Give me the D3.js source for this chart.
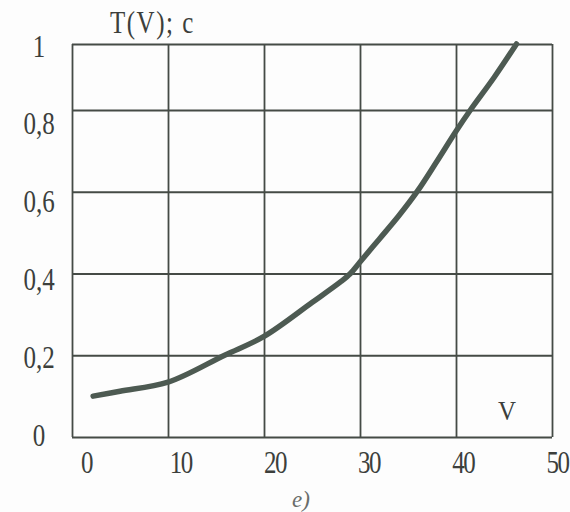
<!DOCTYPE html>
<html>
<head>
<meta charset="utf-8">
<script src="https://cdn.jsdelivr.net/npm/d3@7"></script>
<style>
  body { margin: 0; background: #fdfdfd; }
  text { font-family: "Liberation Serif", "DejaVu Serif", serif; fill: #3c3f3c; }
</style>
</head>
<body>
<div id="my_dataviz"></div>
<script>
// values
var vValues = [2.2, 5, 10, 15.9, 20, 25, 28, 29, 30, 32, 34, 36, 38, 40, 41.5, 44, 46.3];
var tValues = [0.10, 0.112, 0.134, 0.2, 0.246, 0.329, 0.38, 0.4, 0.428, 0.484, 0.54, 0.602, 0.674, 0.748, 0.8, 0.9, 1.0];

var vTicks = [0, 10, 20, 30, 40, 50];
var tTicks = [0, 0.2, 0.4, 0.6, 0.8, 1];
var vTickLabels = ["0", "10", "20", "30", "40", "50"];
var tTickLabels = ["0", "0,2", "0,4", "0,6", "0,8", "1"];

var width = 570, height = 512;

var svg = d3.select("#my_dataviz")
  .append("svg")
  .attr("width", width)
  .attr("height", height);

// the scanned grid is not quite even: top row is shorter
var x = d3.scaleLinear().domain([0, 50]).range([72, 552]);
var y = d3.scaleLinear().domain([0, 0.8, 1]).range([437, 110, 44]);

// tick labels in the scan drift a little from the grid lines
var xLab = d3.scaleLinear().domain([0, 50]).range([86, 557]);
var yLab = d3.scaleLinear().domain([0, 1]).range([445, 56]);

var gridColor = "#454b46";

// horizontal grid + T labels
var gy = svg.append("g")
  .attr("transform", "translate(" + x(0) + ",0)")
  .call(d3.axisLeft(y)
    .tickValues(tTicks)
    .tickSize(-(x(50) - x(0)))
    .tickFormat(function(d, i) { return tTickLabels[i]; }));

gy.select(".domain").remove();
gy.selectAll("line")
  .style("stroke", gridColor)
  .style("stroke-width", 1.8);
gy.selectAll("text")
  .attr("x", 0).attr("y", 0).attr("dy", null)
  .attr("text-anchor", "middle")
  .attr("transform", function(d) { return "translate(-33," + (yLab(d) - y(d)) + ") scale(1,1.3)"; })
  .style("font-size", "25px")
  .style("fill", "#3c3f3c");

// vertical grid + V labels
var gx = svg.append("g")
  .attr("transform", "translate(0," + y(0) + ")")
  .call(d3.axisBottom(x)
    .tickValues(vTicks)
    .tickSize(-(y(0) - y(1)))
    .tickFormat(function(d, i) { return vTickLabels[i]; }));

gx.select(".domain").remove();
gx.selectAll("line")
  .style("stroke", gridColor)
  .style("stroke-width", 1.8);
gx.selectAll("text")
  .attr("x", 0).attr("y", 0).attr("dy", null)
  .attr("text-anchor", "middle")
  .attr("transform", function(d) { return "translate(" + (xLab(d) - x(d)) + ",36) scale(1,1.3)"; })
  .style("font-size", "25px")
  .style("letter-spacing", "-1.5px")
  .style("fill", "#3c3f3c");

// curve
var pts = vValues.map(function(v, i) { return [v, tValues[i]]; });

var line = d3.line()
  .x(function(d) { return x(d[0]); })
  .y(function(d) { return y(d[1]); })
  .curve(d3.curveCatmullRom.alpha(0.5));

svg.append("path")
  .datum(pts)
  .attr("d", line)
  .style("fill", "none")
  .style("stroke", "#4d5a52")
  .style("stroke-width", 5.5)
  .style("stroke-linecap", "round");

// axis titles
svg.append("text")
  .attr("transform", "translate(110,33) scale(1,1.25)")
  .style("font-size", "25px")
  .style("letter-spacing", "1.5px")
  .text("T(V); c");

svg.append("text")
  .attr("transform", "translate(507,420) scale(1,1.1)")
  .attr("text-anchor", "middle")
  .style("font-size", "25px")
  .text("V");

svg.append("text")
  .attr("x", 292)
  .attr("y", 507)
  .style("font-size", "23px")
  .style("font-style", "italic")
  .style("fill", "#6a6d6a")
  .text("e)");
</script>
</body>
</html>
